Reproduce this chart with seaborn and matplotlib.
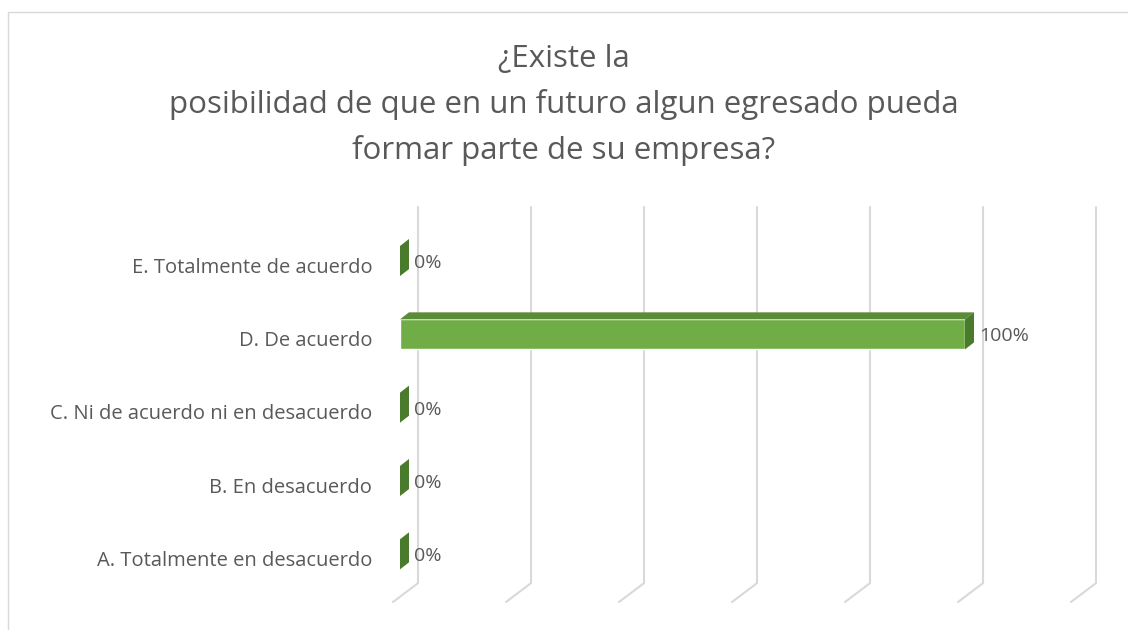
import numpy as np
import pandas as pd
import seaborn as sns
import matplotlib.pyplot as plt
import matplotlib.transforms as mtransforms
from matplotlib.patches import Polygon, Rectangle

# datos de la encuesta
categorias = ["A. Totalmente en desacuerdo", "B. En desacuerdo",
              "C. Ni de acuerdo ni en desacuerdo", "D. De acuerdo",
              "E. Totalmente de acuerdo"]
porcentajes = [0, 0, 0, 100, 0]
ticks_x = [0, 20, 40, 60, 80, 100, 120]
titulo = "¿Existe la\nposibilidad de que en un futuro algun egresado pueda\nformar parte de su empresa?"

df = pd.DataFrame({"categoria": categorias, "valor": porcentajes})
orden = categorias[::-1]

sns.set_style("white")
plt.rcParams["font.family"] = ["Open Sans", "DejaVu Sans"]

gris = "#595959"
verde = "#70AD47"
verde_arriba = "#5A8C38"
verde_lado = "#4A7A2C"

fig = plt.figure(figsize=(11.28, 6.3), dpi=100)
W, H = 1128, 630
ax = fig.add_axes([400 / W, (H - 602) / H, 700 / W, 395 / H])

sns.barplot(data=df, x="valor", y="categoria", order=orden, orient="h",
            color=verde, saturation=1, width=0.41, ax=ax, zorder=3)

ax.set_xlim(0, 700 / 5.65)
ax.set_ylim(4.65, -0.737)
sns.despine(ax=ax, left=True, bottom=True)
ax.set_xticks([])
ax.set_xlabel("")
ax.set_ylabel("")
ax.tick_params(axis="y", length=0, pad=20, labelsize=14.5, labelcolor=gris)
for lab in ax.get_yticklabels():
    lab.set_transform(lab.get_transform() +
                      mtransforms.ScaledTranslation(0, -0.04, fig.dpi_scale_trans))

# pixeles -> datos
px_x = 1 / 5.65
px_y = 1 / 73.3


def pt(x, y, dx=0, dy=0):
    # dx, dy en pixeles (dy positivo = hacia arriba)
    return (x + dx * px_x, y - dy * px_y)


# lineas de division con perspectiva
y_top = -0.737
y_back = -0.737 + (583 - 207) * px_y
y_floor = 4.65
for v in ticks_x:
    xs = [v + 18 * px_x, v + 18 * px_x, v - 7 * px_x]
    ys = [y_top, y_back, y_floor]
    ax.plot(xs, ys, color="#D9D9D9", lw=1.5, zorder=1, clip_on=False)

# caras 3D de las barras
dx3, dy3 = 9, 7
for bar, (cat, val) in zip(ax.patches, df.set_index("categoria").loc[orden, "valor"].items()):
    x0 = bar.get_x()
    w = bar.get_width()
    y0 = bar.get_y()
    h = bar.get_height()
    x1 = x0 + w
    ytop = y0
    ybot = y0 + h
    if w > 0:
        top = [pt(x0, ytop), pt(x1, ytop), pt(x1, ytop, dx3, dy3), pt(x0, ytop, dx3, dy3)]
        ax.add_patch(Polygon(top, closed=True, facecolor=verde_arriba, edgecolor="none", zorder=3))
    side = [pt(x1, ytop), pt(x1, ytop, dx3, dy3), pt(x1, ybot, dx3, dy3), pt(x1, ybot)]
    ax.add_patch(Polygon(side, closed=True, facecolor=verde_lado, edgecolor="none", zorder=4))
    ax.text(x1 + 14 * px_x, y0 + h / 2 + 2 * px_y, f"{val:.0f}%", ha="left", va="center",
            fontsize=14, color=gris, zorder=5)

fig.text(0.5, 1 - 105 / H, titulo, ha="center", va="center", fontsize=22.5,
         color=gris, linespacing=1.62)

# borde del grafico
fig.patches.append(Rectangle((8 / W, -0.05), 1.1, 1 - 12 / H + 0.05, transform=fig.transFigure,
                             facecolor="none", edgecolor="#D9D9D9", lw=1, zorder=0))

fig.savefig("out.png", dpi=100, facecolor="white")
